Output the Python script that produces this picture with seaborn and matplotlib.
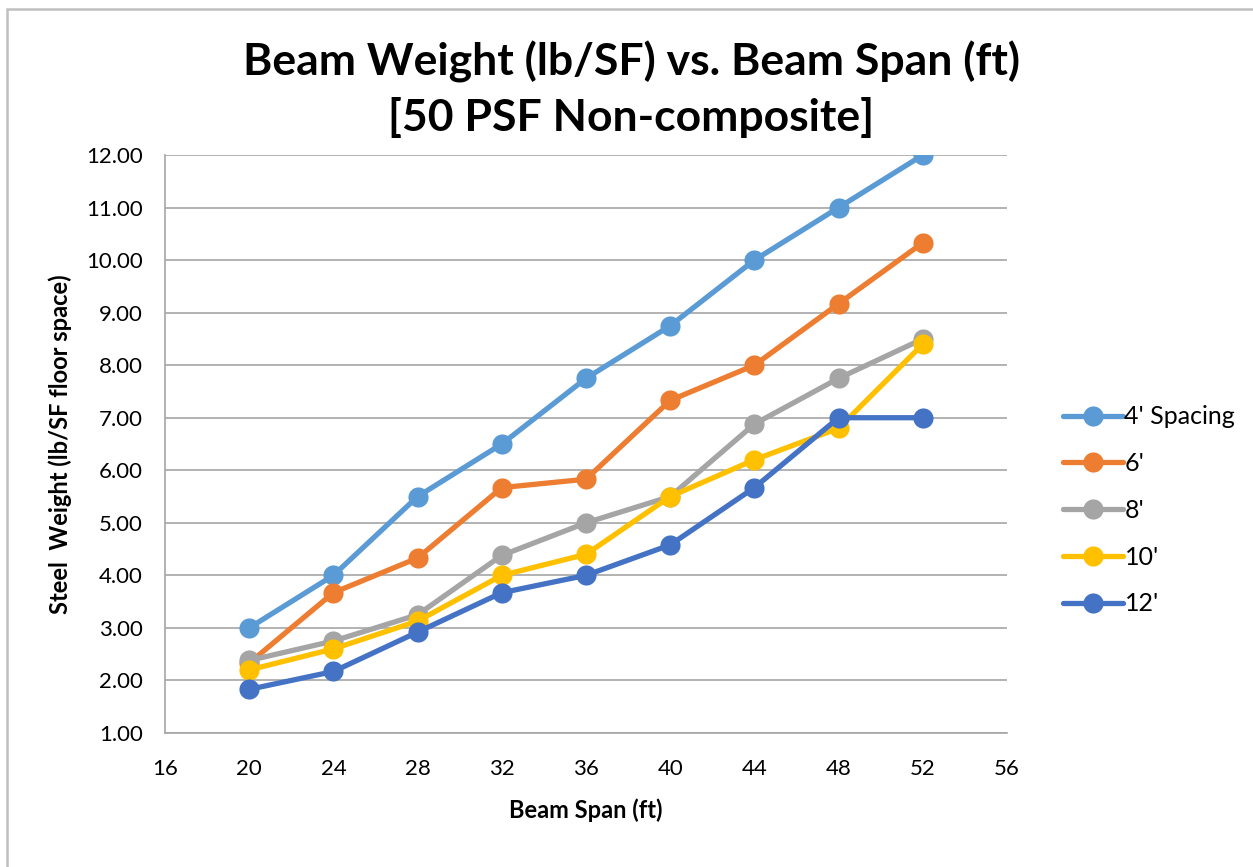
import matplotlib
matplotlib.use("Agg")
import matplotlib.pyplot as plt
import seaborn as sns
import pandas as pd
from matplotlib.patches import Rectangle

spans = [20, 24, 28, 32, 36, 40, 44, 48, 52]
series_names = ["4' Spacing", "6'", "8'", "10'", "12'"]
w4 = [3.00, 4.00, 5.50, 6.50, 7.75, 8.75, 10.00, 11.00, 12.00]
w6 = [2.33, 3.67, 4.33, 5.67, 5.83, 7.33, 8.00, 9.17, 10.33]
w8 = [2.38, 2.75, 3.25, 4.38, 5.00, 5.50, 6.88, 7.75, 8.50]
w10 = [2.20, 2.60, 3.13, 4.00, 4.40, 5.50, 6.20, 6.80, 8.40]
w12 = [1.83, 2.17, 2.92, 3.67, 4.00, 4.58, 5.67, 7.00, 7.00]
colors = ["#5B9BD5", "#ED7D31", "#A5A5A5", "#FFC000", "#4472C4"]
x_ticks = [16, 20, 24, 28, 32, 36, 40, 44, 48, 52, 56]
y_ticks = [1, 2, 3, 4, 5, 6, 7, 8, 9, 10, 11, 12]

rows = []
for name, vals in zip(series_names, [w4, w6, w8, w10, w12]):
    for s, v in zip(spans, vals):
        rows.append({"span": s, "weight": v, "series": name})
df = pd.DataFrame(rows)

sns.set_theme(style="white")
plt.rcParams['font.family'] = ['Lato', 'DejaVu Sans']
plt.rcParams['text.color'] = 'black'

fig = plt.figure(figsize=(12.53, 8.67), dpi=100)
ax = fig.add_axes([0.1317, 0.1546, 0.8037 - 0.1317, 0.8212 - 0.1546])

sns.lineplot(data=df, x="span", y="weight", hue="series", hue_order=series_names,
             palette=colors, marker="o", markersize=14.5, markeredgewidth=0,
             linewidth=3.8, ax=ax, sort=False)

ax.set_xlim(16, 56)
ax.set_ylim(1, 12)
ax.set_xticks(x_ticks)
ax.set_yticks(y_ticks)
ax.set_yticklabels([f"{v:.2f}" for v in y_ticks])
ax.grid(axis="y", color="#a6a6a6", linewidth=1.2)
ax.grid(axis="x", visible=False)
ax.set_axisbelow(True)
for sp in ["top", "right"]:
    ax.spines[sp].set_visible(False)
for sp in ["left", "bottom"]:
    ax.spines[sp].set_color("#a6a6a6")
    ax.spines[sp].set_linewidth(1.2)
ax.tick_params(axis="both", direction="out", length=7, width=1.2, color="#a6a6a6",
               labelsize=16, labelcolor="black", pad=8)
ax.tick_params(axis="x", pad=12)
ax.tick_params(axis="y", pad=9)

ax.set_xlabel("Beam Span (ft)", fontsize=17, fontweight="bold", labelpad=14, color="black")
ax.set_ylabel("Steel  Weight (lb/SF floor space)", fontsize=17, fontweight="bold",
              labelpad=10, color="black")

fig.text(0.504, 0.929, "Beam Weight (lb/SF) vs. Beam Span (ft)", ha="center", va="center",
         fontsize=32, fontweight="bold", color="black")
fig.text(0.504, 0.864, "[50 PSF Non-composite]", ha="center", va="center",
         fontsize=32, fontweight="bold", color="black")

leg = ax.legend(loc="center left", bbox_to_anchor=(1.04, 0.385), frameon=False,
                fontsize=18, handlelength=2.4, handletextpad=0.05, labelspacing=0.95)
for t in leg.get_texts():
    t.set_color("black")

fig.patches.append(Rectangle((0.0055, -0.01), 1.2, 1.0, transform=fig.transFigure,
                             fill=False, edgecolor="#c0c0c0", linewidth=1.8))

fig.savefig("out.png", dpi=100)
